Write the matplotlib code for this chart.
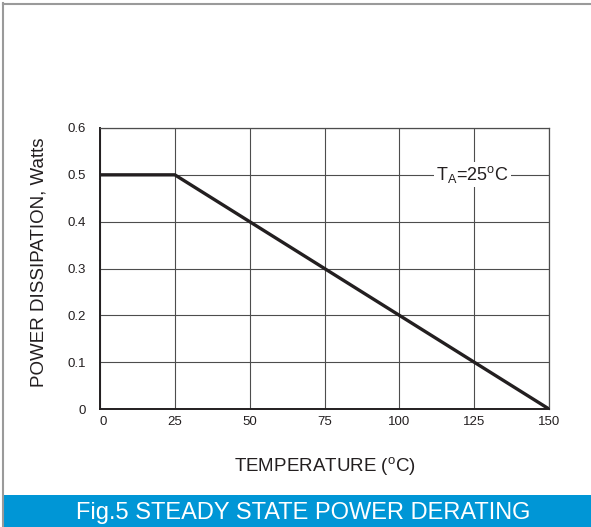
import matplotlib.pyplot as plt
from matplotlib.patches import Rectangle
from matplotlib.lines import Line2D

plt.rcParams['font.family'] = ['Liberation Sans', 'DejaVu Sans']

temperature = [0, 25, 150]
power = [0.5, 0.5, 0.0]
x_ticks = [0, 25, 50, 75, 100, 125, 150]
y_ticks = [0, 0.1, 0.2, 0.3, 0.4, 0.5, 0.6]
y_labels = ['0', '0.1', '0.2', '0.3', '0.4', '0.5', '0.6']

text_col = '#231f20'
grid_col = '#4d4d4d'

fig = plt.figure(figsize=(5.91, 5.27), dpi=100)
ax = fig.add_axes([100/591, 1-409/527, 449/591, 281/527])

ax.plot(temperature, power, color=text_col, lw=2.4, solid_capstyle='butt', zorder=3)

ax.set_xlim(0, 150)
ax.set_ylim(0, 0.6)
ax.set_xticks(x_ticks)
ax.set_yticks(y_ticks)
ax.set_yticklabels(y_labels)
ax.grid(True, color=grid_col, lw=0.8)
ax.set_axisbelow(True)
for s in ax.spines.values():
    s.set_color(grid_col)
    s.set_linewidth(0.9)
ax.spines['left'].set_color(text_col)
ax.spines['bottom'].set_color(text_col)
ax.spines['left'].set_linewidth(1.4)
ax.spines['bottom'].set_linewidth(1.4)
ax.tick_params(length=0, labelsize=9.5, colors=text_col)
ax.tick_params(axis='y', pad=10)
ax.tick_params(axis='x', pad=5)
for lab in ax.get_xticklabels():
    lab.set_horizontalalignment('left' if lab.get_text() == '0' else 'center')

ax.set_xlabel('TEMPERATURE ($^{\\mathregular{o}}$C)', fontsize=13.5, color=text_col, labelpad=20)
ax.set_ylabel('POWER DISSIPATION, Watts', fontsize=13.5, color=text_col)
ax.yaxis.set_label_coords(-0.118, 0.522)

ax.text(124.5, 0.5, 'T$_{\\mathregular{A}}$=25$^{\\mathregular{o}}$C', fontsize=13, color=text_col,
        ha='center', va='center', zorder=4,
        bbox=dict(facecolor='white', edgecolor='none', pad=1.5))

# frame and banner
fig.add_artist(Line2D([3/591, 3/591], [0, 1-3/527], color='#9a9a9a', lw=1.5))
fig.add_artist(Line2D([3/591, 1], [1-3.5/527, 1-3.5/527], color='#9a9a9a', lw=1.5))
fig.add_artist(Rectangle((4/591, 0), 1, 32/527, facecolor='#0096d6', edgecolor='none'))
fig.text(303/591, 14/527, 'Fig.5 STEADY STATE POWER DERATING', color='white',
         fontsize=17, ha='center', va='center')

fig.savefig('out.png', dpi=100)
